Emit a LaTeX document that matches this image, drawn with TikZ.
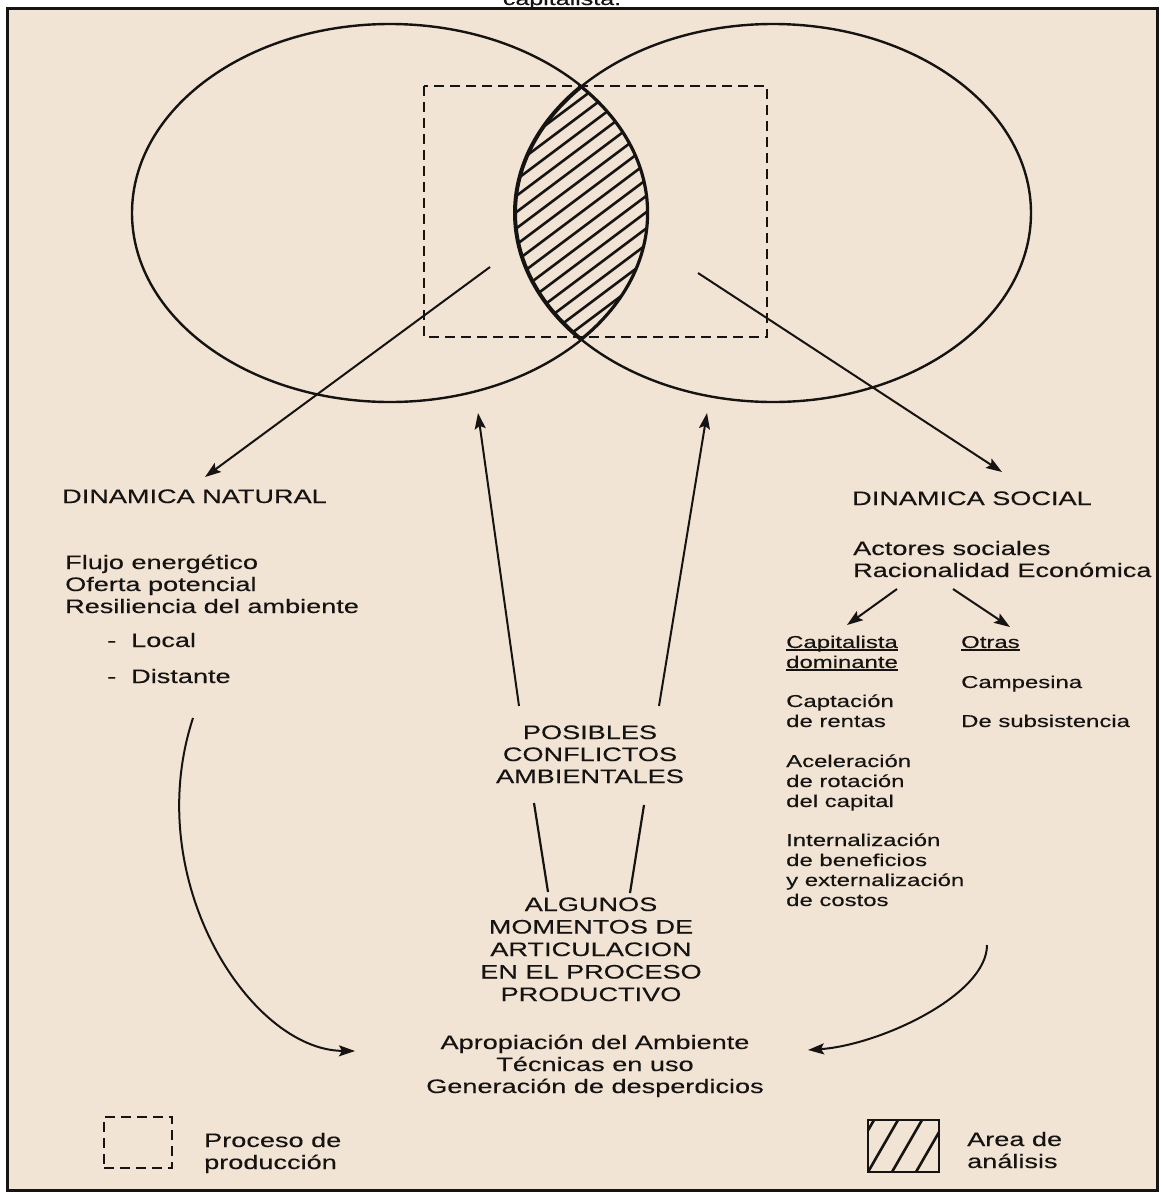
\documentclass[tikz,border=0pt]{standalone}
\usepackage{fontspec}
\setmainfont{Liberation Sans}[FakeStretch=1.39, FakeBold=0.3]
\usetikzlibrary{arrows.meta}
\definecolor{paper}{RGB}{242,228,212}
\definecolor{ink}{RGB}{22,20,18}
\newsavebox\ulbox
\newcommand\ulword[1]{\sbox\ulbox{#1}\rlap{\rule[-2.5pt]{\wd\ulbox}{1.4pt}}\usebox\ulbox}
\tikzset{
  big/.style={inner sep=0pt, font=\fontsize{19.5}{22}\selectfont, align=left, anchor=base west},
  small/.style={big, font=\fontsize{17.2}{20}\selectfont},
  mid/.style={big, align=center, anchor=base},
  arr/.style={line width=2pt, -{Stealth[length=16pt, width=11pt, inset=3pt]}},
  ring/.style={line width=2.4pt},
  lensrim/.style={line width=4pt},
  hatchline/.style={line width=2.6pt},
  procbox/.style={line width=2.6pt, dash pattern=on 10pt off 6pt},
}
\begin{document}
\begin{tikzpicture}[x=1pt, y=-1pt, ink]
  \useasboundingbox (0,0) rectangle (1161,1192);
  \fill[white] (0,0) rectangle (1161,1192);
  \node[big, anchor=base, font=\fontsize{18}{20}\selectfont] (caption) at (562,5) {capitalista.};
  \draw[line width=3pt, fill=paper] (7,8) rectangle (1157,1190);
  % the two rings
  \draw[ring] (390,213) ellipse [x radius=258pt, y radius=189pt];
  \draw[ring] (773,213) ellipse [x radius=258pt, y radius=189pt];
  \begin{scope}
    \clip (390,213) ellipse [x radius=258pt, y radius=189pt];
    \draw[lensrim] (773,213) ellipse [x radius=258pt, y radius=189pt];
    \clip (773,213) ellipse [x radius=258pt, y radius=189pt];
    \draw[lensrim] (390,213) ellipse [x radius=258pt, y radius=189pt];
    \foreach \k in {-8,...,8}
      \draw[hatchline] ({581.5+7.8*\k-160},{212+10.4*\k+120}) -- ++(320,-240);
  \end{scope}
  \draw[procbox] (424,86) rectangle (767,337);
  % texts (base = last line)
  \node[big] (natural) at (62,503) {DINAMICA NATURAL};
  \node[big] (natlist) at (65,613) {Flujo energético\\Oferta potencial\\Resiliencia del ambiente};
  \node[big] (scale) at (107,683) {-\hspace{15pt}Local\\[14pt]-\hspace{15pt}Distante};
  \node[big] (social) at (852,505) {DINAMICA SOCIAL};
  \node[big] (actores) at (853,577) {Actores sociales\\Racionalidad Económica};
  \node[small] (capital) at (786,668) {\ulword{Capitalista}\\\ulword{dominante}};
  \node[small] (otras) at (961,648) {\ulword{Otras}};
  \node[small] (campesina) at (961,688) {Campesina};
  \node[small] (subsist) at (961,727) {De subsistencia};
  \node[small] (captacion) at (786,727) {Captación\\de rentas};
  \node[small] (acelera) at (786,807) {Aceleración\\de rotación\\del capital};
  \node[small] (intern) at (786,906) {Internalización\\de beneficios\\y externalización\\de costos};
  \node[mid] (conflictos) at (590,783) {POSIBLES\\CONFLICTOS\\AMBIENTALES};
  \node[mid, font=\fontsize{19.5}{22.5}\selectfont] (momentos) at (591,1001)
    {ALGUNOS\\MOMENTOS DE\\ARTICULACION\\EN EL PROCESO\\PRODUCTIVO};
  \node[mid] (apropia) at (595,1093) {Apropiación del Ambiente\\Técnicas en uso\\Generación de desperdicios};
  % legend
  \node[procbox, draw, inner sep=0pt, minimum width=68pt, minimum height=51pt] (legproc) at (138,1142.5) {};
  \node[big] (legproctxt) at (204,1169) {Proceso de\\producción};
  \node[draw, line width=2.4pt, inner sep=0pt, minimum width=71pt, minimum height=52pt,
    path picture={\foreach \s in {-24,0,24,48}
      \draw[hatchline] ([xshift=\s pt]path picture bounding box.south west) -- ++(30,-52);}]
    (leghatch) at (903.5,1146) {};
  \node[big] (leghatchtxt) at (967,1168) {Area de\\análisis};
  % connectors
  \coordinate (natsrc) at (490,267);
  \coordinate (nattip) at (205,477);
  \coordinate (socsrc) at (698,273);
  \coordinate (soctip) at (1002,472);
  \coordinate (cfll) at (519,706);
  \coordinate (cflr) at (659,706);
  \coordinate (upl) at (478,413);
  \coordinate (upr) at (707,413);
  \coordinate (ml1) at (534,803);
  \coordinate (ml2) at (548,892);
  \coordinate (mr1) at (644,805);
  \coordinate (mr2) at (630,893);
  \coordinate (capsrc) at (897,589);
  \coordinate (captip) at (847,625);
  \coordinate (otrsrc) at (953,589);
  \coordinate (otrtip) at (1010,627);
  \coordinate (lcurve) at (193,718);
  \coordinate (ltip) at (355,1051);
  \coordinate (rcurve) at (987,945);
  \coordinate (rtip) at (808,1050);
  \draw[arr] (natsrc) -- (nattip);
  \draw[arr] (socsrc) -- (soctip);
  \draw[arr] (cfll) -- (upl);
  \draw[arr] (cflr) -- (upr);
  \draw[line width=2.2pt] (ml1) -- (ml2);
  \draw[line width=2.2pt] (mr1) -- (mr2);
  \draw[arr] (capsrc) -- (captip);
  \draw[arr] (otrsrc) -- (otrtip);
  \draw[arr] (lcurve) .. controls (140,880) and (250,1050) .. (ltip);
  \draw[arr] (rcurve) .. controls (987,995) and (880,1045) .. (rtip);
\end{tikzpicture}
\end{document}
